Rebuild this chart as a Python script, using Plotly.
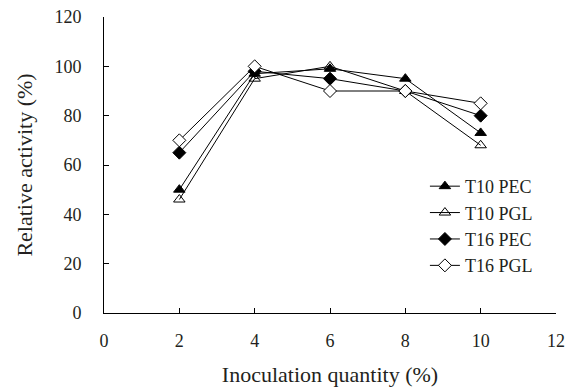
import plotly.graph_objects as go

x_vals = [2, 4, 6, 8, 10]
t10_pec = [50, 97, 99, 95, 73]
t10_pgl = [46, 95, 100, 90, 68]
t16_pec = [65, 98, 95, 90, 80]
t16_pgl = [70, 100, 90, 90, 85]

series = [
    ("T10 PEC", t10_pec, "triangle-up", "black"),
    ("T10 PGL", t10_pgl, "triangle-up-open", "black"),
    ("T16 PEC", t16_pec, "diamond", "black"),
    ("T16 PGL", t16_pgl, "diamond", "white"),
]

fig = go.Figure()
for name, vals, sym, fill in series:
    fig.add_trace(go.Scatter(
        x=x_vals, y=vals, name=name, mode="lines+markers",
        line=dict(color="black", width=1),
        marker=dict(symbol=sym, size=10,
                    color=fill if sym != "triangle-up-open" else "black",
                    line=dict(color="black", width=1)),
    ))

font = "Liberation Serif, Times New Roman, serif"
fig.update_layout(
    width=573, height=387,
    margin=dict(l=104, r=17, t=17, b=74),
    paper_bgcolor="white", plot_bgcolor="white",
    font=dict(family=font, size=18, color="#231f20"),
    legend=dict(x=0.71, y=0.49, xanchor="left", yanchor="top",
                bgcolor="rgba(0,0,0,0)", font=dict(size=18),
                tracegroupgap=0, itemwidth=30),
    xaxis=dict(range=[0, 12], tickvals=[0, 2, 4, 6, 8, 10, 12],
               showline=True, linecolor="black", linewidth=1,
               ticks="inside", ticklen=5, tickcolor="black",
               showgrid=False, zeroline=False, automargin=False,
               ticklabelstandoff=11,
               title=dict(text="Inoculation quantity (%)", standoff=19)),
    yaxis=dict(range=[0, 120], tickvals=[0, 20, 40, 60, 80, 100, 120],
               showline=True, linecolor="black", linewidth=1,
               ticks="inside", ticklen=5, tickcolor="black",
               showgrid=False, zeroline=False, automargin=False,
               ticklabelstandoff=18,
               title=dict(text="Relative activity (%)", standoff=15)),
)
fig.write_html("out.html", config={"displayModeBar": False},
               post_script="document.body.style.margin='0';document.body.style.padding='0';")
